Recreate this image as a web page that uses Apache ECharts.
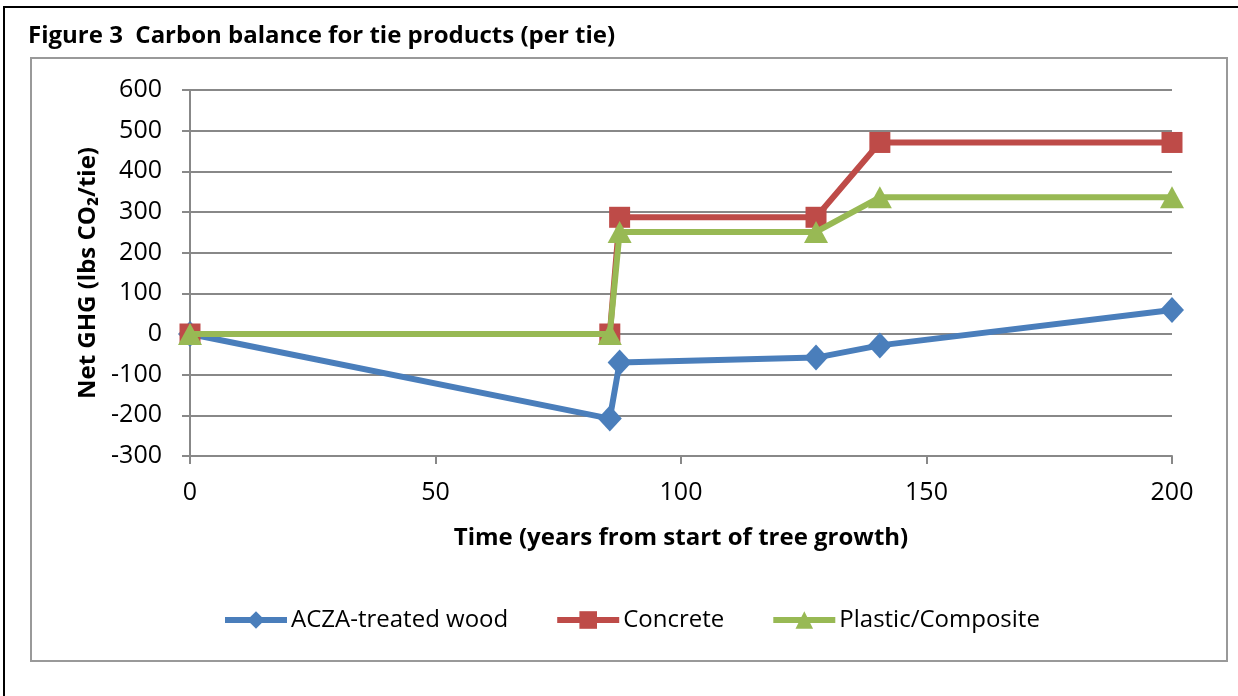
<!DOCTYPE html>
<html>
<head>
<meta charset="utf-8">
<script src="https://cdn.jsdelivr.net/npm/echarts@6/dist/echarts.min.js"></script>
<style>
html,body{margin:0;padding:0;background:#fff;}
#chart{width:1238px;height:696px;}
</style>
</head>
<body>
<div id="chart"></div>
<script>
const titleText = 'Figure 3  Carbon balance for tie products (per tie)';
const xName = 'Time (years from start of tree growth)';
const yName = 'Net GHG (lbs CO\u2082/tie)';
const seriesNames = ['ACZA-treated wood', 'Concrete', 'Plastic/Composite'];
const timeValues = [0, 85.5, 87.5, 127.5, 140.5, 200];
const aczaValues = [0, -208, -70, -58, -28, 59];
const concreteValues = [0, 0, 287, 287, 471, 471];
const plasticValues = [0, 0, 251, 251, 336, 336];
const xTicks = [0, 50, 100, 150, 200];
const yTicks = [-300, -200, -100, 0, 100, 200, 300, 400, 500, 600];

const colors = ['#4A7EBB', '#BE4B48', '#98B954'];
const symbols = ['diamond', 'rect', 'triangle'];
const symbolSizes = [[24, 26], 21, [24, 22]];
const allValues = [aczaValues, concreteValues, plasticValues];

const font = '"Open Sans", "Noto Sans", sans-serif';
const chart = echarts.init(document.getElementById('chart'));

const series = seriesNames.map((name, i) => ({
  name: name,
  type: 'line',
  data: timeValues.map((t, j) => [t, allValues[i][j]]),
  symbol: symbols[i],
  symbolSize: symbolSizes[i],
  showAllSymbol: true,
  lineStyle: { color: colors[i], width: 6 },
  itemStyle: { color: colors[i] },
  z: 2 + i,
  animation: false
}));

chart.setOption({
  animation: false,
  color: colors,
  textStyle: { fontFamily: font },
  title: {
    text: titleText,
    left: 23,
    top: 19,
    textStyle: { fontSize: 24, fontWeight: 'bold', color: '#000', fontFamily: font }
  },
  graphic: [
    { type: 'line', shape: { x1: 3, y1: 7, x2: 1238, y2: 7 }, style: { stroke: '#000', lineWidth: 2 } },
    { type: 'line', shape: { x1: 4, y1: 7, x2: 4, y2: 696 }, style: { stroke: '#000', lineWidth: 2 } },
    { type: 'rect', shape: { x: 31, y: 58, width: 1196, height: 603 }, style: { fill: 'none', stroke: '#999', lineWidth: 2 }, z: -1 }
  ],
  legend: {
    data: seriesNames,
    left: 217,
    top: 603,
    itemWidth: 62,
    itemHeight: 22,
    itemGap: 46,
    lineStyle: { width: 6 },
    textStyle: { fontSize: 24, color: '#000', fontFamily: font, padding: [0, 0, 0, -1] }
  },
  grid: { left: 190, right: 66, top: 90, bottom: 240, containLabel: false },
  xAxis: {
    type: 'value',
    min: 0,
    max: 200,
    interval: 50,
    name: xName,
    nameLocation: 'middle',
    nameGap: 70,
    nameTextStyle: { fontSize: 24, fontWeight: 'bold', color: '#000', fontFamily: font },
    axisLine: { show: true, onZero: false, lineStyle: { color: '#888', width: 2 } },
    axisTick: { show: true, length: 8, lineStyle: { color: '#888', width: 2 } },
    axisLabel: { fontSize: 25, color: '#000', margin: 24, fontFamily: font, formatter: v => xTicks.includes(v) ? String(v) : '' },
    splitLine: { show: false }
  },
  yAxis: {
    type: 'value',
    min: -300,
    max: 600,
    interval: 100,
    name: yName,
    nameLocation: 'middle',
    nameGap: 88,
    nameRotate: 90,
    nameTextStyle: { fontSize: 24, fontWeight: 'bold', color: '#000', fontFamily: font },
    axisLine: { show: true, onZero: false, lineStyle: { color: '#888', width: 2 } },
    axisTick: { show: true, length: 8, lineStyle: { color: '#888', width: 2 } },
    axisLabel: { fontSize: 25, color: '#000', margin: 28, fontFamily: font, formatter: v => yTicks.includes(v) ? String(v) : '' },
    splitLine: { show: true, lineStyle: { color: '#888', width: 2 } }
  },
  series: series
});
</script>
</body>
</html>
